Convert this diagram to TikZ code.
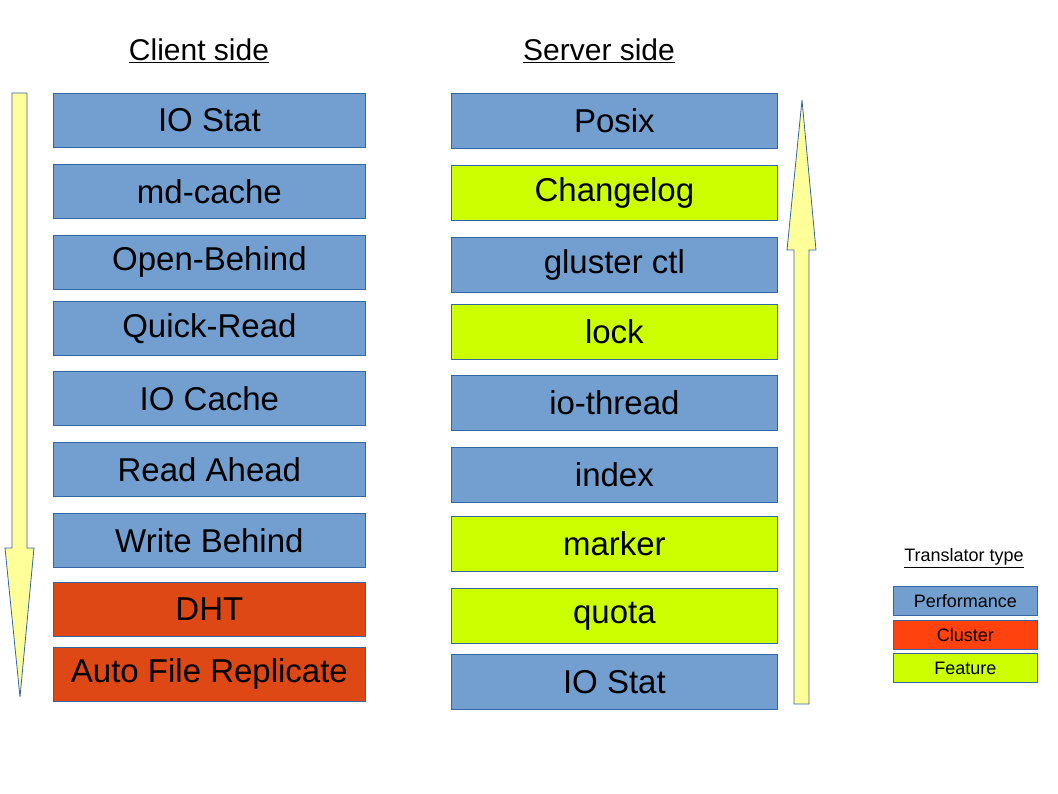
\documentclass[tikz,border=0pt]{standalone}
\usepackage{fontspec}
\setmainfont{Liberation Sans}
\begin{document}
\begin{tikzpicture}[x=1pt,y=-1pt,
  box/.style={draw=bdr,line width=0.8pt,inner sep=0pt,anchor=north west,font=\fontsize{33}{36}\selectfont},
  lbox/.style={draw=bdr,line width=0.8pt,inner sep=0pt,anchor=north west,font=\fontsize{18}{20}\selectfont},
  perf/.style={fill=perfc},clus/.style={fill=clusc},feat/.style={fill=featc},
  arr/.style={draw=bdr,fill=arrc,line width=0.8pt,line join=miter},
  head/.style={font=\fontsize{30}{34}\selectfont}]
\definecolor{perfc}{HTML}{729FCF}
\definecolor{clusc}{HTML}{DE4815}
\definecolor{clusl}{HTML}{FF420E}
\definecolor{featc}{HTML}{CCFF00}
\definecolor{bdr}{HTML}{3465A4}
\definecolor{arrc}{HTML}{FFFF99}
\useasboundingbox (0,0) rectangle (1058,794);
\node[head] (ch) at (199,51) {\underline{Client side}};
\node[head] (sh) at (599,51) {\underline{Server side}};
% client
\foreach \n/\y/\h/\t/\s in {c1/93/54/IO Stat/perf, c2/164/54/md-cache/perf, c3/235/54/Open-Behind/perf, c4/301/54/Quick-Read/perf, c5/371/54/IO Cache/perf, c6/442/54/Read Ahead/perf, c7/513/54/Write Behind/perf, c8/582/54/DHT/clus, c9/647/54/Auto File Replicate/clus}
  \node[box,\s,minimum width=312pt,minimum height=\h pt] (\n) at (53,\y) {\t};
% server
\foreach \n/\y/\t/\s in {s1/93/Posix/perf, s2/165/Changelog/feat, s3/237/gluster ctl/perf, s4/304/lock/feat, s5/375/io-thread/perf, s6/447/index/perf, s7/516/marker/feat, s8/588/quota/feat, s9/654/IO Stat/perf}
  \node[box,\s,minimum width=326pt,minimum height=55pt] (\n) at (451,\y) {\t};
% arrows
\draw[arr] (12,93) -- (27,93) -- (27,548) -- (34,548) -- (20,697) -- (5,548) -- (12,548) -- cycle;
\draw[arr] (794,704) -- (809,704) -- (809,250) -- (816,250) -- (802,100) -- (787,250) -- (794,250) -- cycle;
% legend
\node[font=\fontsize{18}{20}\selectfont] (lt) at (964,558) {\underline{Translator type}};
\node[lbox,perf,minimum width=144pt,minimum height=29pt] (l1) at (893,586) {Performance};
\node[lbox,fill=clusl,minimum width=144pt,minimum height=29pt] (l2) at (893,620) {Cluster};
\node[lbox,feat,minimum width=144pt,minimum height=29pt] (l3) at (893,653) {Feature};
\end{tikzpicture}
\end{document}
